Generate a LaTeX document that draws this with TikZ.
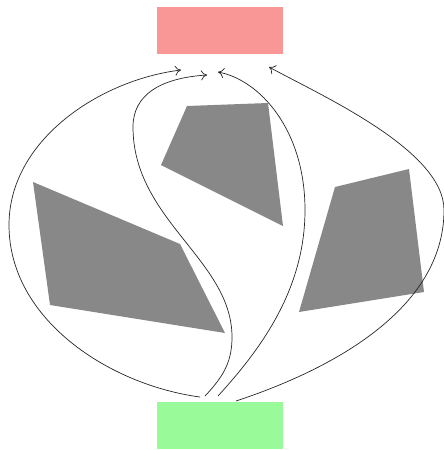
\documentclass[tikz,border=0pt]{standalone}
\usetikzlibrary{arrows.meta}
\definecolor{boxred}{RGB}{249,150,150}
\definecolor{boxgreen}{RGB}{152,250,152}
\definecolor{shapegray}{RGB}{136,136,136}
\tikzset{
  box/.style={draw=none, minimum width=126pt, minimum height=47pt, inner sep=0pt},
  blob/.style={fill=shapegray, draw=none},
  link/.style={draw=black!85, line width=0.7pt, -{To[length=6pt,width=10pt]}},
}
\begin{document}
\begin{tikzpicture}[x=1pt,y=-1pt]
\useasboundingbox (0,0) rectangle (444,450);
\node[box, fill=boxred] (top) at (220,30.5) {};
\node[box, fill=boxgreen] (bot) at (220,425.5) {};
% shapes
\fill[blob] (33,182) -- (180,244) -- (225,333) -- (50,305) -- cycle;
\fill[blob] (187,106) -- (268,103) -- (283,226) -- (161,165) -- cycle;
\fill[blob] (335,187) -- (409,169) -- (424,292) -- (299,312) -- cycle;
% connector ends
\coordinate (s1) at (200,397);
\coordinate (s2) at (205,396);
\coordinate (s3) at (218,396);
\coordinate (s4) at (236,401);
\coordinate (e1) at (181,70);
\coordinate (e2) at (207,75);
\coordinate (e3) at (218,72);
\coordinate (e4) at (269,67);
\draw[link] (s1) .. controls (110,385) and (9,320) .. (9,225)
  .. controls (9,140) and (100,80) .. (e1);
\draw[link] (s2) .. controls (225,375) and (232,360) .. (232,337)
  .. controls (232,260) and (133,220) .. (133,127)
  .. controls (133,95) and (160,78) .. (e2);
\draw[link] (s3) .. controls (260,350) and (305,290) .. (305,210)
  .. controls (305,130) and (260,80) .. (e3);
\draw[link] (s4) .. controls (330,370) and (444,310) .. (444,210)
  .. controls (444,150) and (320,95) .. (e4);
\end{tikzpicture}
\end{document}
